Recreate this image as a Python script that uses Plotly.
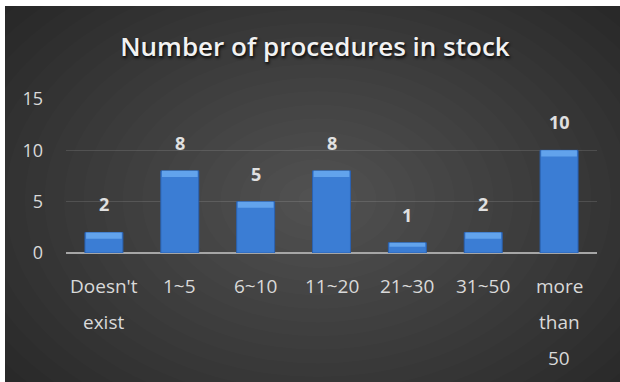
import plotly.graph_objects as go

categories = ["Doesn't exist", "1~5", "6~10", "11~20", "21~30", "31~50", "more than 50"]
label_lines = [["Doesn't", "exist"], ["1~5"], ["6~10"], ["11~20"], ["21~30"], ["31~50"], ["more", "than", "50"]]
values = [2, 8, 5, 8, 1, 2, 10]
y_ticks = [0, 5, 10, 15]
title_text = "Number of procedures in stock"

W, H = 620, 382
L, R, T, B = 66, 23, 99, 129
pw, ph = W - L - R, H - T - B


def px2paper(X, Y):
    return (X - L) / pw, (H - B - Y) / ph


fig = go.Figure()

# main bars
fig.add_trace(go.Bar(
    x=categories, y=values, width=0.5,
    marker=dict(color="#3b7dd4", line=dict(color="#2a62b2", width=1)),
    hoverinfo="skip",
))
# lighter bevel cap at top of each bar
bevel = [min(0.6, v * 0.4) for v in values]
fig.add_trace(go.Bar(
    x=categories, y=bevel, base=[v - b for v, b in zip(values, bevel)], width=0.47,
    marker=dict(color="#62a3ec", line=dict(width=0)),
    hoverinfo="skip",
))

shapes = []
# white strips at top and left, dark background
x0, y0 = px2paper(5, 382)
x1, y1 = px2paper(620, 6)
shapes.append(dict(type="rect", xref="paper", yref="paper", x0=x0, y0=y0, x1=x1, y1=y1,
                   fillcolor="#252525", line=dict(width=0), layer="below"))
# radial gradient approximation
cx, cy = 318, 200
N = 22
for i in range(N):
    f = 1 - i / N
    rx, ry = 430 * f, 300 * f
    ax0, ay0 = px2paper(cx - rx, cy + ry)
    ax1, ay1 = px2paper(cx + rx, cy - ry)
    shapes.append(dict(type="circle", xref="paper", yref="paper", x0=ax0, y0=ay0, x1=ax1, y1=ay1,
                       fillcolor="rgba(255,255,255,0.012)", line=dict(width=0), layer="below"))

annotations = []
for c, v in zip(categories, values):
    annotations.append(dict(x=c, y=v, xref="x", yref="y", text=str(v), showarrow=False,
                            yshift=28, yanchor="middle",
                            font=dict(family="Open Sans", size=18, color="#e0e0e0", weight="bold")))
for c, lines in zip(categories, label_lines):
    for i, ln in enumerate(lines):
        annotations.append(dict(x=c, y=0, xref="x", yref="y", text=ln, showarrow=False,
                                yshift=-(33 + 36 * i), yanchor="middle",
                                font=dict(family="Open Sans", size=19, color="#d9d9d9")))

fig.update_layout(
    width=W, height=H,
    margin=dict(l=L, r=R, t=T, b=B),
    paper_bgcolor="white",
    plot_bgcolor="rgba(0,0,0,0)",
    barmode="overlay",
    showlegend=False,
    title=dict(text=title_text, x=0.508, xref="container", y=1 - 47 / H,
               yref="container", xanchor="center", yanchor="middle",
               font=dict(family="Open Sans", size=26, color="#f2f2f2", weight=600,
                         shadow="1px 2px 3px rgba(0,0,0,0.9)")),
    shapes=shapes,
    annotations=annotations,
    xaxis=dict(showticklabels=False, showgrid=False, zeroline=False, showline=False, ticks=""),
    yaxis=dict(range=[0, 15], tickvals=y_ticks, ticktext=[str(t) for t in y_ticks],
               showgrid=True, gridcolor="rgba(255,255,255,0.12)", gridwidth=1,
               zeroline=True, zerolinecolor="#a6a6a6", zerolinewidth=2,
               showline=False, ticks="", ticklabelstandoff=22,
               tickfont=dict(family="Open Sans", size=18, color="#d9d9d9")),
)

fig.write_html("out.html")
